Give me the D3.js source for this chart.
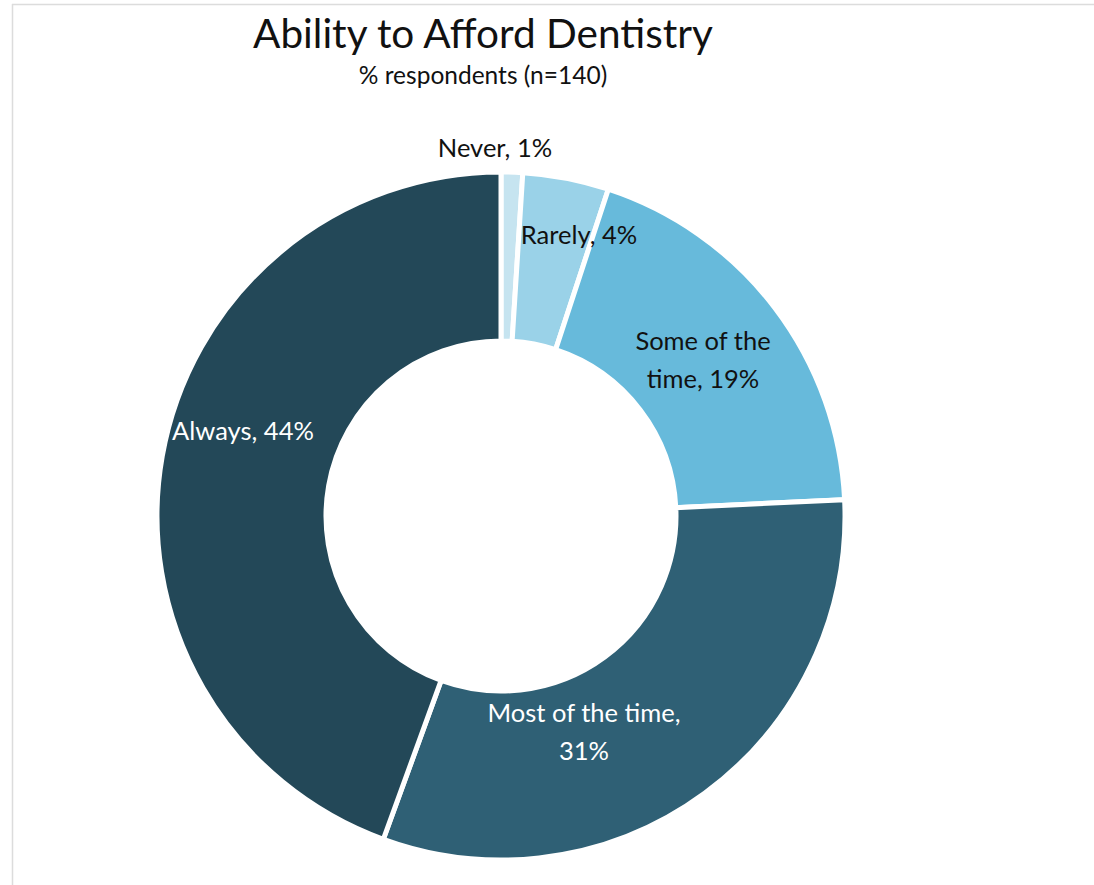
<!DOCTYPE html>
<html><head><meta charset="utf-8">
<script src="https://cdn.jsdelivr.net/npm/d3@7"></script>
<style>html,body{margin:0;padding:0;background:#fff;}svg{display:block;}</style>
</head><body>
<svg id="chart" width="1094" height="885"></svg>
<script>
const categories = ["Never", "Rarely", "Some of the time", "Most of the time", "Always"];
const values = [1, 4, 19, 31, 44];
const colors = ["#c6e4f0", "#9ad2e8", "#67badb", "#2f6075", "#234858"];
const labelLines = [["Never, 1%"], ["Rarely, 4%"], ["Some of the", "time, 19%"], ["Most of the time,", "31%"], ["Always, 44%"]];
const labelColors = ["#111", "#111", "#111", "#fff", "#fff"];

const svg = d3.select("#chart");
const font = "Lato, 'Open Sans', sans-serif";

// frame lines
svg.append("line").attr("x1", 12).attr("x2", 1094).attr("y1", 4.5).attr("y2", 4.5).attr("stroke", "#dcdcdc").attr("stroke-width", 1.5);
svg.append("line").attr("x1", 12.5).attr("x2", 12.5).attr("y1", 4).attr("y2", 885).attr("stroke", "#dcdcdc").attr("stroke-width", 1.5);

svg.append("text").attr("x", 483).attr("y", 48).attr("text-anchor", "middle")
  .attr("font-family", font).attr("font-size", 40.5).attr("fill", "#111").text("Ability to Afford Dentistry");
svg.append("text").attr("x", 483).attr("y", 84).attr("text-anchor", "middle")
  .attr("font-family", font).attr("font-size", 24.5).attr("fill", "#111").text("% respondents (n=140)");

const cx = 501, cy = 516, R = 344, r = 175;
const pie = d3.pie().sort(null).value(d => d);
const arcs = pie(values);
const arc = d3.arc().innerRadius(r).outerRadius(R);
const g = svg.append("g").attr("transform", `translate(${cx},${cy})`);
g.selectAll("path").data(arcs).join("path")
  .attr("d", arc).attr("fill", (d, i) => colors[i])
  .attr("stroke", "#fff").attr("stroke-width", 5).attr("stroke-linejoin", "miter");

// label positions (absolute)
const labelPos = [[495, 157], [579, 244], [703, 350], [584, 722], [243, 440]];
const lineH = 38;
labelLines.forEach((lines, i) => {
  const t = svg.append("text").attr("text-anchor", "middle")
    .attr("font-family", font).attr("font-size", 25.5).attr("fill", labelColors[i]);
  lines.forEach((ln, j) => {
    t.append("tspan").attr("x", labelPos[i][0]).attr("y", labelPos[i][1] + j * lineH).text(ln);
  });
});
</script>
</body></html>
